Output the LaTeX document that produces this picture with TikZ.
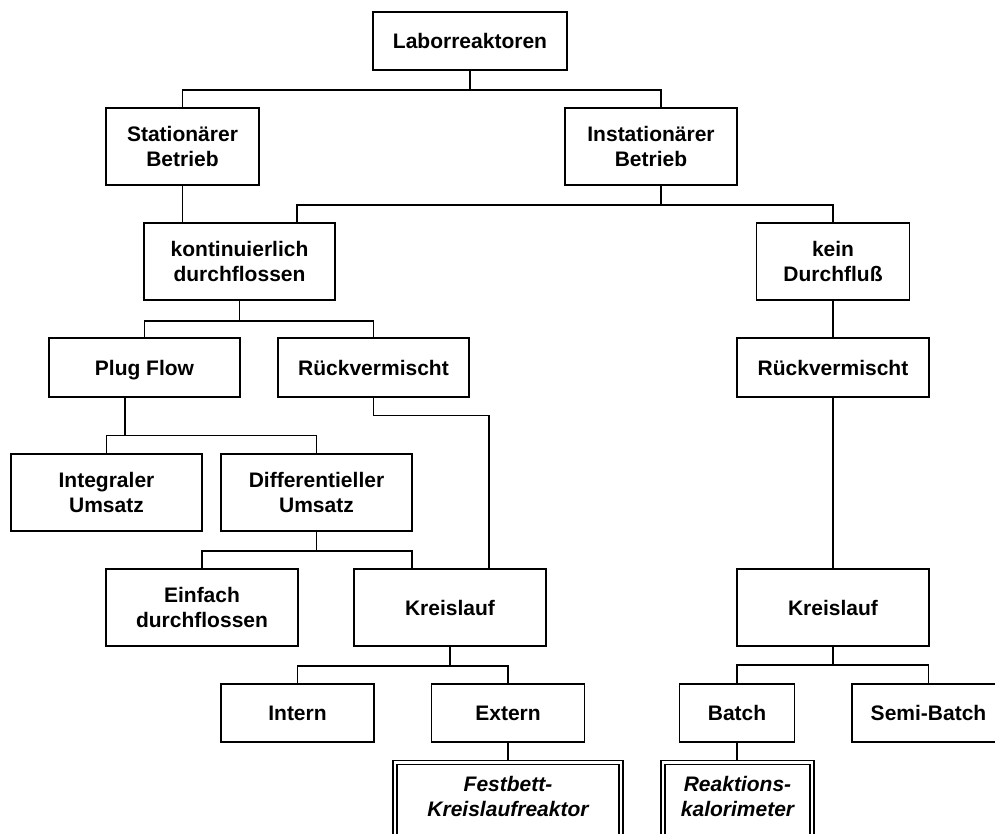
\documentclass[tikz,border=0pt]{standalone}
\usepackage{fontspec}
\setmainfont{Liberation Sans}
\usetikzlibrary{positioning}

\tikzset{
  box/.style = {draw, inner sep=0pt, align=center, font=\bfseries\fontsize{10.5}{12.5}\selectfont},
  wide/.style = {minimum width=95.75pt},
  narrow/.style = {minimum width=76.5pt},
  tall/.style = {minimum height=38.5pt},
  low/.style = {minimum height=29.25pt, text height=7.6pt, text depth=0pt},
  dbox/.style = {draw, line width=0.7pt, double, double distance=1.3pt, inner sep=0pt, minimum height=45pt, anchor=north},
  dtext/.style = {inner sep=0pt, anchor=north, yshift=-6.5pt, align=center, font=\bfseries\itshape\fontsize{10.5}{12.5}\selectfont}
}

\begin{document}
\begin{tikzpicture}[x=0.5pt, y=-0.5pt, line width=0.85pt]
\useasboundingbox (0,0) rectangle (995,834);
\clip (0,0) rectangle (995,834);
\node[box, minimum width=97pt, low] (lab) at (470,41) {Laborreaktoren};
\node[box, narrow, tall] (stat) at (182.5,146.5) {Stationärer\\Betrieb};
\node[box, minimum width=86pt, tall] (inst) at (651,146.5) {Instationärer\\Betrieb};
\node[box, wide, tall] (kont) at (239.5,261.5) {kontinuierlich\\durchflossen};
\node[box, narrow, tall] (kein) at (833,261.5) {kein\\Durchfluß};
\node[box, wide, low] (plug) at (144.5,367.5) {Plug Flow};
\node[box, wide, low] (rueckL) at (373.5,367.5) {Rückvermischt};
\node[box, wide, low] (rueckR) at (833,367.5) {Rückvermischt};
\node[box, wide, tall] (integ) at (106.5,492.5) {Integraler\\Umsatz};
\node[box, wide, tall] (diff) at (316.5,492.5) {Differentieller\\Umsatz};
\node[box, wide, tall] (einf) at (202,607.5) {Einfach\\durchflossen};
\node[box, wide, tall] (kreisL) at (450,607.5) {Kreislauf};
\node[box, wide, tall] (kreisR) at (833,607.5) {Kreislauf};
\node[box, narrow, low] (intern) at (297.5,713) {Intern};
\node[box, narrow, low] (extern) at (508,713) {Extern};
\node[box, minimum width=57.5pt, low] (batch) at (737,713) {Batch};
\node[box, narrow, low] (semi) at (928.5,713) {Semi-Batch};
\node[dbox, minimum width=113pt, label={[dtext]north:Festbett-\\Kreislaufreaktor}] (fest) at (508,762) {};
\node[dbox, minimum width=74.5pt, label={[dtext]north:Reaktions-\\kalorimeter}] (reak) at (737.5,762) {};
\draw (lab.south) -- ++(0,19) -| (stat.north);
\draw (lab.south) -- ++(0,19) -| ([xshift=5pt]inst.north);
\draw (stat.south) -- (stat.south |- kont.north);
\draw ([xshift=5pt]inst.south) -- ++(0,19) -| ([xshift=28.75pt]kont.north);
\draw ([xshift=5pt]inst.south) -- ++(0,19) -| (kein.north);
\draw (kont.south) -- ++(0,20) -| (plug.north);
\draw (kont.south) -- ++(0,20) -| (rueckL.north);
\draw ([xshift=-9.75pt]plug.south) -- ++(0,38) -| (integ.north);
\draw ([xshift=-9.75pt]plug.south) -- ++(0,38) -| (diff.north);
\draw (rueckL.south) -- ++(0,18) -| ([xshift=19.5pt]kreisL.north);
\draw (diff.south) -- ++(0,19) -| (einf.north);
\draw (diff.south) -- ++(0,19) -| ([xshift=-19pt]kreisL.north);
\draw (kreisL.south) -- ++(0,19) -| (intern.north);
\draw (kreisL.south) -- ++(0,19) -| (extern.north);
\draw [shorten >=1pt] (extern.south) -- (extern.south |- fest.north);
\draw (kein.south) -- (rueckR.north);
\draw (rueckR.south) -- (kreisR.north);
\draw (kreisR.south) -- ++(0,18) -| (batch.north);
\draw (kreisR.south) -- ++(0,18) -| (semi.north);
\draw [shorten >=1pt] (batch.south) -- (batch.south |- reak.north);
\end{tikzpicture}
\end{document}
